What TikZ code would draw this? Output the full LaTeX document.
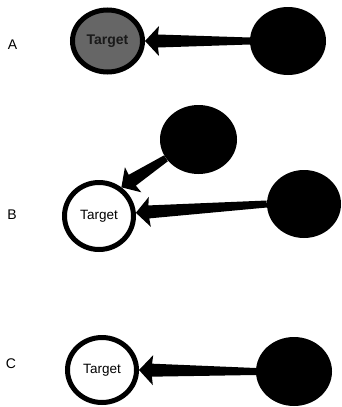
\documentclass[tikz,border=0pt]{standalone}
\usepackage{fontspec}
\setmainfont{Liberation Sans}
\usetikzlibrary{shapes.geometric,calc}

\tikzset{
  target/.style={ellipse, draw=black, line width=5pt, inner sep=0pt,
                 font=\fontsize{13.5}{15}\selectfont},
  source/.style={ellipse, fill=black, inner sep=0pt},
  panel/.style={font=\fontsize{14}{16}\selectfont, anchor=center},
}

% Tapered arrow from the border point #1 to the tip point #2:
% a thin tail widening towards a triangular head.
\newcommand\taperarrow[2]{%
  \fill[black]
    (#2)
    -- ($(#2)!14pt!(#1)!15pt!90:(#1)$)
    -- ($(#2)!13pt!(#1)!6.5pt!90:(#1)$)
    -- ($(#1)!3.5pt!-90:(#2)$)
    -- ($(#1)!3.5pt!90:(#2)$)
    -- ($(#2)!13pt!(#1)!6.5pt!-90:(#1)$)
    -- ($(#2)!14pt!(#1)!15pt!-90:(#1)$)
    -- cycle;}

\begin{document}
\begin{tikzpicture}[x=1pt, y=-1pt]
  \useasboundingbox[fill=white] (0,0) rectangle (341,407);

  % ---- panel A ----
  \node[panel] (la) at (12.5,45) {A};
  \node[target, fill=black!60, minimum width=70pt, minimum height=62pt,
        font=\fontsize{14}{16}\selectfont\bfseries, text=black!90]
        (ta) at (107.5,41) {Target};
  \node[source, minimum width=76pt, minimum height=68pt] (sa) at (288,41) {};
  \taperarrow{sa.west}{ta.east}

  % ---- panel B ----
  \node[panel] (lb) at (12,214.5) {B};
  \node[target, fill=white, minimum width=69pt, minimum height=67pt]
        (tb) at (99,216) {Target};
  \node[source, minimum width=77pt, minimum height=69pt] (sb1) at (198.5,139.5) {};
  \node[source, minimum width=74pt, minimum height=68pt] (sb2) at (304,204) {};
  \taperarrow{sb1.210}{tb.52}
  \taperarrow{sb2.west}{tb.5}

  % ---- panel C ----
  \node[panel] (lc) at (11,364) {C};
  \node[target, fill=white, minimum width=69pt, minimum height=65pt]
        (tc) at (102,370) {Target};
  \node[source, minimum width=76pt, minimum height=69pt] (sc) at (294,371.5) {};
  \taperarrow{sc.west}{tc.east}
\end{tikzpicture}
\end{document}
